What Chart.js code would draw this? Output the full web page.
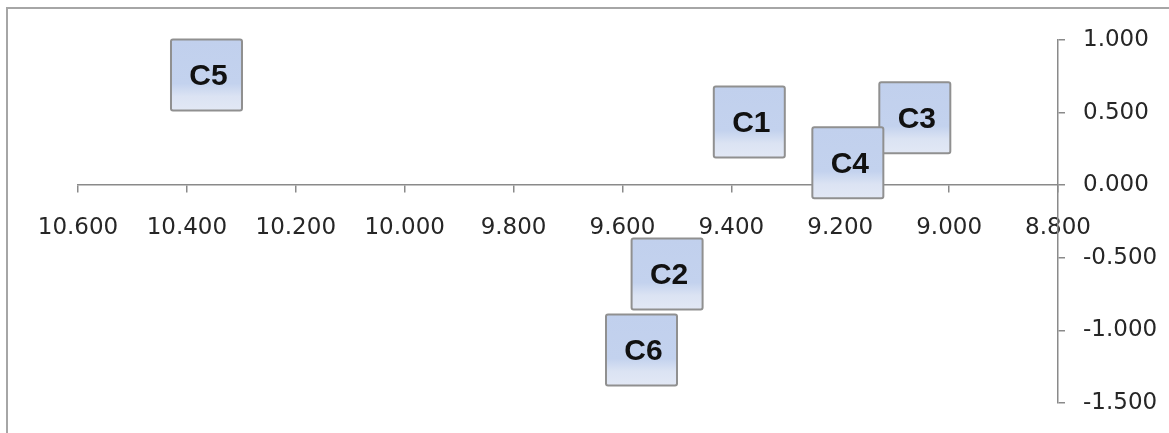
<!DOCTYPE html>
<html>
<head>
<meta charset="utf-8">
<script src="https://cdn.jsdelivr.net/npm/chart.js@4"></script>
<style>
  body { margin: 0; background: #fff; }
  #frame {
    position: absolute; left: 6px; top: 7px; width: 1300px; height: 600px;
    border-left: 2px solid #a6a6a6; border-top: 2px solid #a6a6a6;
  }
  #wrap { position: absolute; left: 0; top: 0; width: 1169px; height: 433px; }
</style>
</head>
<body>
<div id="frame"></div>
<div id="wrap"><canvas id="Scatter_Chart"></canvas></div>
<script>
// ข้อมูลจุด (อ่านจากภาพ)
const labels = ['C1', 'C2', 'C3', 'C4', 'C5', 'C6'];
const xValues = [9.367, 9.518, 9.063, 9.186, 10.364, 9.565];
const yValues = [0.435, -0.612, 0.465, 0.155, 0.759, -1.135];

// ช่วงแกน
const xMin = 8.8, xMax = 10.6, xStep = 0.2;
const yMin = -1.5, yMax = 1.0, yStep = 0.5;

const axisColor = '#8a8a8a';
const tickFont = { family: 'DejaVu Sans', size: 23 };

// วาดกล่องป้ายชื่อแทนจุด
const boxLabels = {
    id: 'boxLabels',
    afterDatasetsDraw(chart) {
        const ctx = chart.ctx;
        const meta = chart.getDatasetMeta(0);
        const w = 71, h = 71;
        meta.data.forEach((pt, i) => {
            const x = pt.x - w / 2, y = pt.y - h / 2;
            const g = ctx.createLinearGradient(0, y, 0, y + h);
            g.addColorStop(0, '#c1d0ed');
            g.addColorStop(0.62, '#c3d2ee');
            g.addColorStop(0.8, '#dbe3f3');
            g.addColorStop(1, '#e2e8f5');
            ctx.save();
            ctx.fillStyle = g;
            ctx.strokeStyle = '#909090';
            ctx.lineWidth = 2;
            ctx.beginPath();
            ctx.roundRect(x, y, w, h, 2);
            ctx.fill();
            ctx.stroke();
            ctx.fillStyle = '#111';
            ctx.font = 'bold 30px "Liberation Sans", Arial, sans-serif';
            ctx.textAlign = 'center';
            ctx.textBaseline = 'middle';
            ctx.fillText(labels[i], pt.x + 2, pt.y + 2);
            ctx.restore();
        });
    }
};

const ctx = document.getElementById('Scatter_Chart').getContext('2d');
new Chart(ctx, {
    type: 'scatter',
    data: {
        datasets: [{
            label: 'C',
            data: xValues.map((x, i) => ({ x: x, y: yValues[i] })),
            pointRadius: 0,
            pointHoverRadius: 0
        }]
    },
    options: {
        responsive: true,
        maintainAspectRatio: false,
        animation: false,
        layout: { padding: { left: 78, top: 40, bottom: 30, right: 0 } },
        plugins: {
            legend: { display: false },
            tooltip: { enabled: false }
        },
        scales: {
            x: {
                type: 'linear',
                reverse: true,
                min: xMin,
                max: xMax,
                position: { y: 0 },
                border: { display: true, color: axisColor, width: 1.5 },
                grid: { drawOnChartArea: false, drawTicks: true, tickLength: 7, color: axisColor, lineWidth: 1.5 },
                ticks: {
                    stepSize: xStep,
                    padding: 22,
                    color: '#262626',
                    font: tickFont,
                    maxRotation: 0,
                    autoSkip: false,
                    callback: v => Number(v).toFixed(3)
                }
            },
            y: {
                type: 'linear',
                min: yMin,
                max: yMax,
                position: 'right',
                border: { display: true, color: axisColor, width: 1.5 },
                grid: { drawOnChartArea: false, drawTicks: true, tickLength: 7, color: axisColor, lineWidth: 1.5 },
                ticks: {
                    stepSize: yStep,
                    padding: 18,
                    color: '#262626',
                    font: tickFont,
                    callback: v => Number(v).toFixed(3)
                },
                afterFit(scale) {
                    scale.width = 111;
                    scale.paddingTop = 0;
                    scale.paddingBottom = 0;
                }
            }
        }
    },
    plugins: [boxLabels]
});
</script>
</body>
</html>
